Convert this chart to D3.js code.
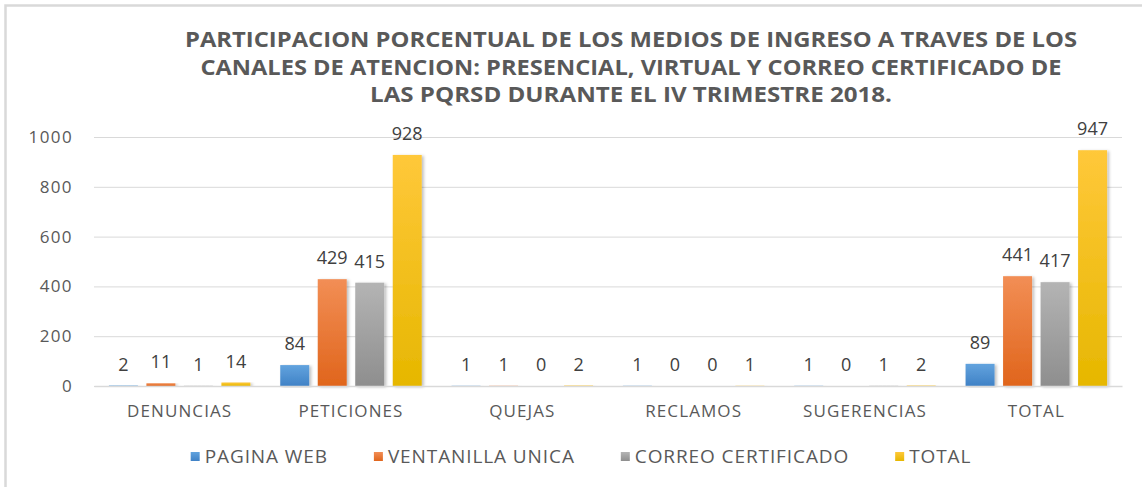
<!DOCTYPE html>
<meta charset="utf-8">
<html lang="es">
<head>
<script src="https://d3js.org/d3.v7.min.js"></script>
<style>
  body { margin: 0; background: #fff; }
  text { font-family: "Open Sans", sans-serif; }
  .axis text { fill: #595959; font-size: 17px; }
  .label { fill: #404040; font-size: 18px; text-anchor: middle; }
  .legend text { fill: #595959; font-size: 19px; }
</style>
</head>
<body>
<script>

// chart data
var categories = ["DENUNCIAS", "PETICIONES", "QUEJAS", "RECLAMOS", "SUGERENCIAS", "TOTAL"];
var seriesNames = ["PAGINA WEB", "VENTANILLA UNICA", "CORREO CERTIFICADO", "TOTAL"];
var paginaWeb = [2, 84, 1, 1, 1, 89];
var ventanilla = [11, 429, 1, 0, 0, 441];
var correo = [1, 415, 0, 0, 1, 417];
var totales = [14, 928, 2, 1, 2, 947];
var yTicks = [0, 200, 400, 600, 800, 1000];
var titleLines = [
  "PARTICIPACION PORCENTUAL DE LOS MEDIOS DE INGRESO A TRAVES DE LOS",
  "CANALES DE ATENCION: PRESENCIAL, VIRTUAL Y CORREO CERTIFICADO DE",
  "LAS PQRSD DURANTE EL IV TRIMESTRE 2018."
];

var seriesValues = [paginaWeb, ventanilla, correo, totales];
var colors = [
  ["#62a3de", "#4082c6"],
  ["#f28e55", "#e0651c"],
  ["#b4b4b4", "#8e8e8e"],
  ["#ffc83a", "#e6b700"]
];

var width = 1142, height = 487;
var margin = {top: 137, left: 94, right: 20, bottom: 101};
var plotW = width - margin.left - margin.right,
    plotH = height - margin.top - margin.bottom;

var svg = d3.select("body").append("svg")
  .attr("width", width)
  .attr("height", height);

var defs = svg.append("defs");
colors.forEach(function(c, i) {
  var g = defs.append("linearGradient")
    .attr("id", "grad" + i)
    .attr("x1", 0).attr("y1", 0).attr("x2", 0).attr("y2", 1);
  g.append("stop").attr("offset", "0%").attr("stop-color", c[0]);
  g.append("stop").attr("offset", "100%").attr("stop-color", c[1]);
});
var shadow = defs.append("filter").attr("id", "shadow")
  .attr("x", "-20%").attr("y", "-5%").attr("width", "150%").attr("height", "110%");
shadow.append("feDropShadow")
  .attr("dx", 2).attr("dy", 1).attr("stdDeviation", 1.5)
  .attr("flood-color", "#000").attr("flood-opacity", 0.25);

// outer border
svg.append("rect")
  .attr("x", 5.5).attr("y", 5.5)
  .attr("width", 1300).attr("height", 700)
  .attr("fill", "none")
  .attr("stroke", "#d9d9d9")
  .attr("stroke-width", 2.5);

// title
svg.append("g").selectAll("text")
  .data(titleLines)
  .enter().append("text")
  .attr("x", 631)
  .attr("y", function(d, i) { return 47 + i * 27.5; })
  .attr("text-anchor", "middle")
  .attr("font-size", "21px")
  .attr("font-weight", "bold")
  .attr("fill", "#595959")
  .attr("textLength", function(d, i) { return [892, 861, 522][i]; })
  .attr("lengthAdjust", "spacingAndGlyphs")
  .text(function(d) { return d; });

var g = svg.append("g")
  .attr("transform", "translate(" + margin.left + "," + margin.top + ")");

var x0 = d3.scaleBand().domain(categories).range([0, plotW]);
var x1 = d3.scaleBand().domain(d3.range(4))
  .range([14.9, 14.9 + 141.5])
  .paddingInner(0.227);
var y = d3.scaleLinear().domain([0, 1000]).range([plotH, 0]);

// y axis with gridlines
var yAxis = g.append("g")
  .attr("class", "axis")
  .call(d3.axisLeft(y).tickValues(yTicks).tickFormat(d3.format("d"))
    .tickSize(-plotW).tickPadding(21));
yAxis.select(".domain").remove();
yAxis.selectAll("line").attr("stroke", "#d9d9d9");
yAxis.selectAll("text").attr("font-size", "17.5px").attr("letter-spacing", "1.4px");

// bars
var groups = g.selectAll(".group")
  .data(categories)
  .enter().append("g")
  .attr("class", "group")
  .attr("transform", function(d) { return "translate(" + x0(d) + ",0)"; });

groups.each(function(cat, ci) {
  var grp = d3.select(this);
  var vals = seriesValues.map(function(s, si) { return {s: si, v: s[ci]}; });
  grp.selectAll("rect")
    .data(vals)
    .enter().append("rect")
    .attr("x", function(d) { return x1(d.s); })
    .attr("y", function(d) { return y(d.v); })
    .attr("width", x1.bandwidth())
    .attr("height", function(d) { return plotH - y(d.v); })
    .attr("fill", function(d) { return "url(#grad" + d.s + ")"; })
    .attr("filter", "url(#shadow)");
  grp.selectAll(".label")
    .data(vals)
    .enter().append("text")
    .attr("class", "label")
    .attr("x", function(d) { return x1(d.s) + x1.bandwidth() / 2; })
    .attr("y", function(d) { return y(d.v) - 15; })
    .text(function(d) { return d.v; });
});

// x axis
var xAxis = g.append("g")
  .attr("class", "axis")
  .attr("transform", "translate(0," + plotH + ")")
  .call(d3.axisBottom(x0).tickSize(0).tickSizeOuter(0).tickPadding(19));
xAxis.select(".domain").attr("stroke", "#d9d9d9").attr("stroke-width", 1.5);
xAxis.selectAll("text").attr("font-size", "18px").attr("letter-spacing", "1.1px");

// legend
var legend = svg.append("g").attr("class", "legend");
var gap = 46;
var cursor = 0;
seriesNames.forEach(function(name, i) {
  var item = legend.append("g").attr("transform", "translate(" + cursor + ",0)");
  item.append("rect")
    .attr("x", 0).attr("y", 452)
    .attr("width", 9).attr("height", 9)
    .attr("fill", "url(#grad" + i + ")");
  var t = item.append("text")
    .attr("x", 14).attr("y", 463)
    .attr("letter-spacing", "0.9px")
    .text(name);
  cursor += 14 + t.node().getComputedTextLength() + gap;
});
var legendW = cursor - gap;
legend.attr("transform", "translate(" + (581 - legendW / 2) + ",0)");

</script>
</body>
</html>
